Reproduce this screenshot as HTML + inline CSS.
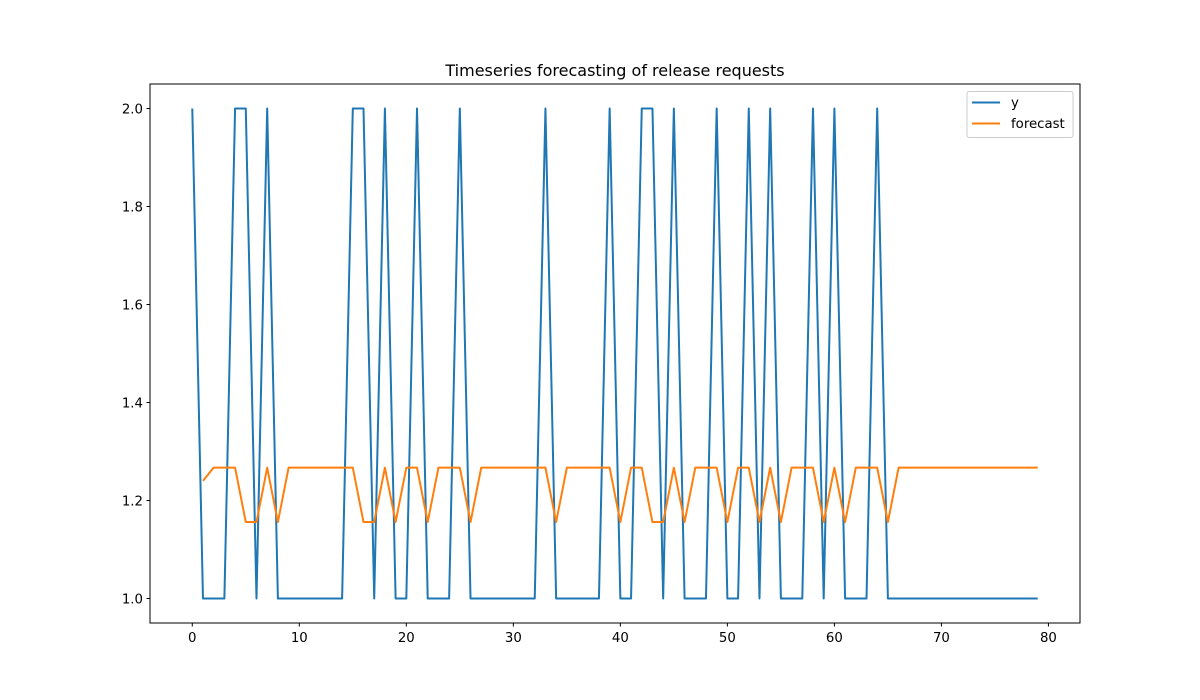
<!DOCTYPE html>
<html><head><meta charset="utf-8"><style>
html,body{margin:0;padding:0;background:#fff;}
svg{display:block;font-family:"DejaVu Sans","Liberation Sans",sans-serif;}
</style></head><body>
<svg id="chart" width="1200" height="700" xmlns="http://www.w3.org/2000/svg">
<rect x="0" y="0" width="1200" height="700" fill="#fff"/>
<text x="615" y="76" text-anchor="middle" font-size="16" fill="#000">Timeseries forecasting of release requests</text>
<g id="ticks"></g>
<g id="series"></g>
<rect x="150" y="84" width="930" height="539" fill="none" stroke="#000" stroke-width="1"/>
<g>
<rect x="967" y="91.5" width="106" height="46" rx="2" fill="#fff" fill-opacity="0.8" stroke="#ccc"/>
<g>
<line x1="972" y1="102.5" x2="1000" y2="102.5" stroke="#1f77b4" stroke-width="2"/>
<text x="1011" y="107" font-size="13.3">y</text></g>
<g>
<line x1="972" y1="123.5" x2="1000" y2="123.5" stroke="#ff7f0e" stroke-width="2"/>
<text x="1011" y="128" font-size="13.3">forecast</text></g>
</g>
</svg>
<script>
const yValues=[2,1,1,1,2,2,1,2,1,1,1,1,1,1,1,2,2,1,2,1,1,2,1,1,1,2,1,1,1,1,1,1,1,2,1,1,1,1,1,2,1,1,2,2,1,2,1,1,1,2,1,1,2,1,2,1,1,1,2,1,2,1,1,1,2,1,1,1,1,1,1,1,1,1,1,1,1,1,1,1];
const H=1.267,L=1.156;
const forecastStart=1;
const forecastValues=[1.24,H,H,H,L,L,H,L,H,H,H,H,H,H,H,L,L,H,L,H,H,L,H,H,H,L,H,H,H,H,H,H,H,L,H,H,H,H,H,L,H,H,L,L,H,L,H,H,H,L,H,H,L,H,L,H,H,H,L,H,L,H,H,H,L,H,H,H,H,H,H,H,H,H,H,H,H,H,H];
const xTicks=[0,10,20,30,40,50,60,70,80];
const yTicks=[1.0,1.2,1.4,1.6,1.8,2.0];
const ns="http://www.w3.org/2000/svg";
const x0=-3.95,x1=82.95,y0=0.95,y1=2.05;
const sx=v=>150+(v-x0)/(x1-x0)*930;
const sy=v=>623-(v-y0)/(y1-y0)*539;
const tg=document.getElementById('ticks'),sg=document.getElementById('series');
function mk(t,a,p){const e=document.createElementNS(ns,t);for(const k in a)e.setAttribute(k,a[k]);p.appendChild(e);return e;}
xTicks.forEach(v=>{const x=sx(v);
const l=mk('line',{x1:x,x2:x,y1:623,y2:626.5,stroke:'#000'},tg);


const t=mk('text',{x:x,y:642,'text-anchor':'middle','font-size':'13.3'},tg);t.textContent=v;

});
yTicks.forEach(v=>{const y=sy(v);
const l=mk('line',{x1:146.5,x2:150,y1:y,y2:y,stroke:'#000'},tg);


const t=mk('text',{x:143,y:y+5,'text-anchor':'end','font-size':'13.3'},tg);t.textContent=v.toFixed(1);

});
const p1=mk('polyline',{points:yValues.map((v,i)=>sx(i)+','+sy(v)).join(' '),fill:'none',stroke:'#1f77b4','stroke-width':2,'stroke-linejoin':'round'},sg);


const p2=mk('polyline',{points:forecastValues.map((v,i)=>sx(i+forecastStart)+','+sy(v)).join(' '),fill:'none',stroke:'#ff7f0e','stroke-width':2,'stroke-linejoin':'round'},sg);


</script>
</body></html>
